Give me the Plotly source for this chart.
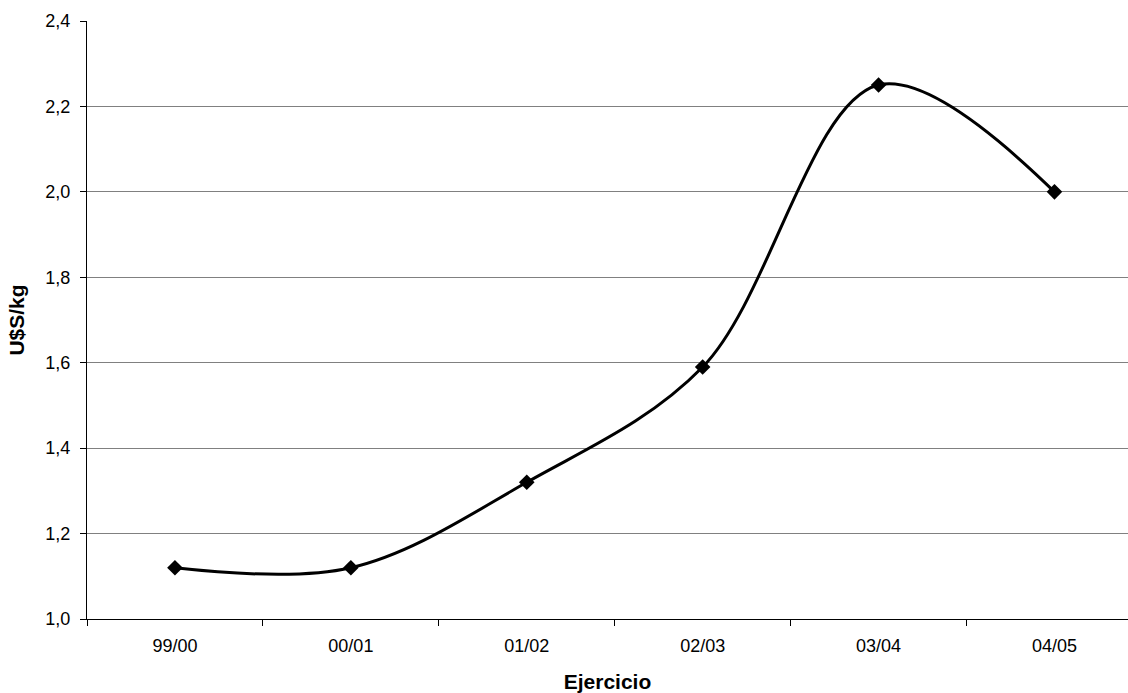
import plotly.graph_objects as go

categories = ["99/00", "00/01", "01/02", "02/03", "03/04", "04/05"]
values = [1.12, 1.12, 1.32, 1.59, 2.25, 2.00]

fig = go.Figure()
fig.add_trace(go.Scatter(
    x=categories, y=values, mode="lines+markers",
    line=dict(color="black", width=3, shape="spline", smoothing=1.0),
    marker=dict(symbol="diamond", size=12, color="black"),
    showlegend=False,
))

fig.update_layout(
    width=1128, height=693,
    margin=dict(l=86.5, r=0, t=21, b=74),
    plot_bgcolor="white", paper_bgcolor="white",
    separators=",.",
    font=dict(family="Liberation Sans, Arial", size=18, color="black"),
)
fig.update_xaxes(
    type="category", range=[-0.5, 5.418],
    tickson="boundaries", ticks="outside", ticklen=6, tickcolor="black",
    ticklabelstandoff=10,
    showline=True, linecolor="black", linewidth=1,
    showgrid=False,
    title=dict(text="<b>Ejercicio</b>", font=dict(size=21), standoff=19),
    tickfont=dict(size=18),
)
fig.update_yaxes(
    range=[1.0, 2.4], dtick=0.2, tickformat=".1f",
    ticks="outside", ticklen=6, tickcolor="black",
    ticklabelstandoff=6,
    showline=True, linecolor="black", linewidth=1,
    showgrid=True, gridcolor="#808080", gridwidth=1,
    zeroline=False,
    title=dict(text="<b>U$S/kg</b>", font=dict(size=21), standoff=15),
    tickfont=dict(size=18),
)

fig.write_html("out.html")
